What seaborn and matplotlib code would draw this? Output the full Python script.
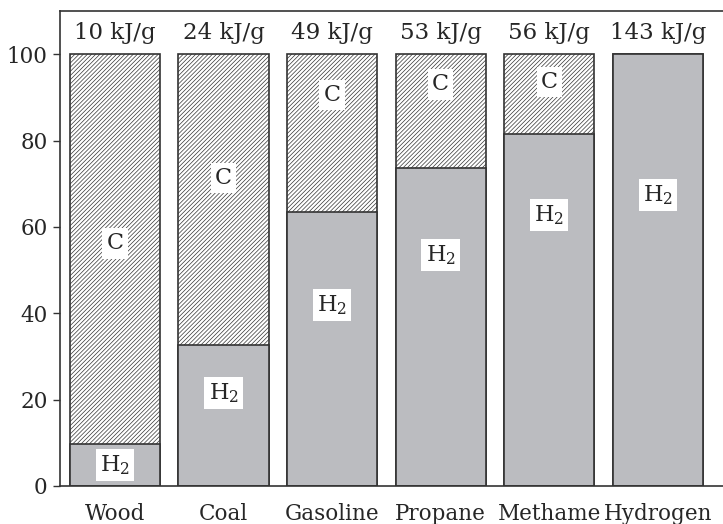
import numpy as np
import pandas as pd
import matplotlib
matplotlib.use("Agg")
import matplotlib.pyplot as plt
import seaborn as sns

# data
fuels = ["Wood", "Coal", "Gasoline", "Propane", "Methame", "Hydrogen"]
energy = ["10 kJ/g", "24 kJ/g", "49 kJ/g", "53 kJ/g", "56 kJ/g", "143 kJ/g"]
h2_share = [9.8, 32.6, 63.4, 73.6, 81.5, 100.0]
total = [100, 100, 100, 100, 100, 100]
# where the little boxed labels sit (data units)
c_label_y = [56.2, 71.3, 90.5, 93.0, 93.5, None]
h2_label_y = [4.9, 21.5, 41.9, 53.5, 62.7, 67.4]

df = pd.DataFrame({"fuel": fuels, "total": total, "h2": h2_share})

sns.set_style("white")
plt.rcParams["font.family"] = ["DejaVu Serif"]
plt.rcParams["mathtext.fontset"] = "dejavuserif"
plt.rcParams["hatch.linewidth"] = 0.5
plt.rcParams["hatch.color"] = "#666666"

fig = plt.figure(figsize=(7.23, 5.24), dpi=100)
ax = fig.add_axes([60 / 723, 38 / 524, 1 - 60 / 723, (486 - 11) / 524])

gray = "#bbbcc0"
edge = "#333333"

sns.barplot(data=df, x="fuel", y="total", order=fuels, color="white",
            width=0.83, edgecolor=edge, linewidth=1.2, ax=ax, hatch="/" * 8)
sns.barplot(data=df, x="fuel", y="h2", order=fuels, color=gray,
            width=0.83, edgecolor=edge, linewidth=1.2, ax=ax)
for p in ax.patches:
    if p.get_facecolor()[0] < 0.9:
        p.set_hatch(None)
        p.set_facecolor(gray)

box = dict(facecolor="white", edgecolor="none", pad=3)
for i, f in enumerate(fuels):
    if c_label_y[i] is not None:
        ax.text(i, c_label_y[i], "C", ha="center", va="center",
                fontsize=16, bbox=box)
    ax.text(i, h2_label_y[i], "H$_2$", ha="center", va="center",
            fontsize=16, bbox=box)
    ax.text(i, 104.9, energy[i], ha="center", va="center", fontsize=16.5)

ax.set_xlim(-0.505, 5.6)
ax.set_ylim(0, 110)
ax.set_yticks([0, 20, 40, 60, 80, 100])
ax.set_xlabel("")
ax.set_ylabel("")
ax.tick_params(axis="y", left=True, length=5, width=1, color=edge,
               labelsize=15.5, pad=4)
ax.tick_params(axis="x", bottom=False, labelsize=15.5, pad=9)
for s in ["left", "top", "bottom"]:
    ax.spines[s].set_visible(True)
    ax.spines[s].set_color(edge)
    ax.spines[s].set_linewidth(1.2)
ax.spines["right"].set_visible(False)

fig.savefig("out.png", dpi=100)
